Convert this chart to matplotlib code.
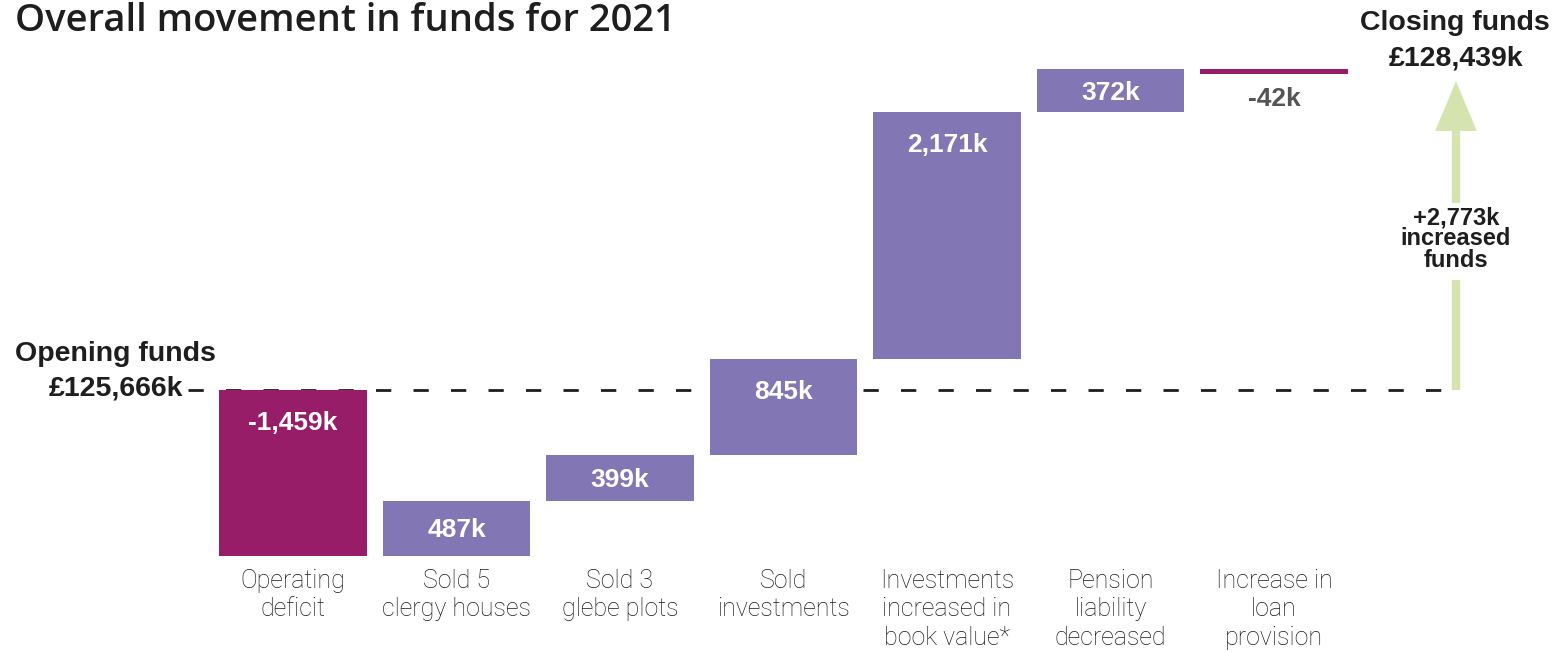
import matplotlib
matplotlib.use("Agg")
import matplotlib.pyplot as plt
from matplotlib.patches import FancyArrowPatch

# DATA
opening = 125666
closing = 128439
categories = ["Operating\ndeficit", "Sold 5\nclergy houses", "Sold 3\nglebe plots",
              "Sold\ninvestments", "Investments\nincreased in\nbook value*",
              "Pension\nliability\ndecreased", "Increase in\nloan\nprovision"]
changes = [-1459, 487, 399, 845, 2171, 372, -42]
value_labels = ["-1,459k", "487k", "399k", "845k", "2,171k", "372k", "-42k"]

# COLOURS
purple = "#8277b4"
magenta = "#971d69"
green = "#d5e4ae"
dark = "#1e1e1e"

# LAYOUT (pixels -> axis units)
W, H = 1557, 652
x0_px, step_px = 293, 163.5
y0_px, px_per_k = 390, 0.1139


def xpos(px):
    return (px - x0_px) / step_px


def ypos(px):
    return opening - (px - y0_px) / px_per_k


fig = plt.figure(figsize=(W / 100, H / 100), dpi=100)
ax = fig.add_axes([0, 0, 1, 1])
ax.set_xlim(xpos(0), xpos(W))
ax.set_ylim(ypos(H), ypos(0))
ax.axis("off")

# waterfall bars
running = opening
for i, ch in enumerate(changes):
    color = purple if ch > 0 else magenta
    bottom = running if ch > 0 else running + ch
    ax.bar(i, abs(ch), bottom=bottom, width=0.905, color=color, linewidth=0, zorder=3)
    top = bottom + abs(ch)
    h_px = abs(ch) * px_per_k
    if h_px < 20:
        # too thin to hold text: label underneath
        ax.text(i, bottom - 25 / px_per_k, value_labels[i], ha="center", va="center",
                fontsize=19, fontweight="bold", color="#555555",
                family="Liberation Sans", zorder=4)
    else:
        off = min(33, h_px / 2 + 2)
        ax.text(i, top - off / px_per_k, value_labels[i], ha="center", va="center",
                fontsize=19, fontweight="bold", color="white",
                family="Liberation Sans", zorder=4)
    ax.text(i, ypos(569), categories[i], ha="center", va="top", fontsize=18,
            color="#1a1a1a", family="Roboto", fontweight="light", linespacing=1.23)
    running += ch

# dashed opening line, behind the bars
arrow_x = xpos(1456)
ax.plot([xpos(188), arrow_x], [opening, opening], color=dark, lw=2,
        dashes=(5.5, 8), zorder=1)

# green arrow to closing funds, broken around its label
ax.plot([arrow_x, arrow_x], [opening, ypos(280)], color=green, lw=6,
        solid_capstyle="butt", zorder=2)
arrow = FancyArrowPatch((arrow_x, ypos(203)), (arrow_x, closing - 60),
                        arrowstyle="simple,head_length=36,head_width=30,tail_width=6",
                        mutation_scale=1, color=green, linewidth=0,
                        shrinkA=0, shrinkB=0, zorder=2)
ax.add_patch(arrow)
ax.text(arrow_x, ypos(239), "+{:,}k\nincreased\nfunds".format(closing - opening),
        ha="center", va="center", fontsize=17, fontweight="bold", color=dark,
        family="Liberation Sans", linespacing=0.9, zorder=4)

# opening / closing labels
ax.text(xpos(15), ypos(354), "Opening funds", ha="left", va="center", fontsize=20.5,
        fontweight="bold", color=dark, family="Liberation Sans")
ax.text(xpos(183), ypos(389), "£{:,}k".format(opening), ha="right", va="center",
        fontsize=20.5, fontweight="bold", color=dark, family="Liberation Sans")
ax.text(xpos(1455), ypos(23), "Closing funds", ha="center", va="center", fontsize=20.5,
        fontweight="bold", color=dark, family="Liberation Sans")
ax.text(xpos(1456), ypos(58), "£{:,}k".format(closing), ha="center", va="center",
        fontsize=20.5, fontweight="bold", color=dark, family="Liberation Sans")

fig.text(15 / W, 1 - 21 / H, "Overall movement in funds for 2021", ha="left",
         va="center", fontsize=27.5, fontweight="semibold", color=dark,
         family="Open Sans")

fig.savefig("out.png", dpi=100)
